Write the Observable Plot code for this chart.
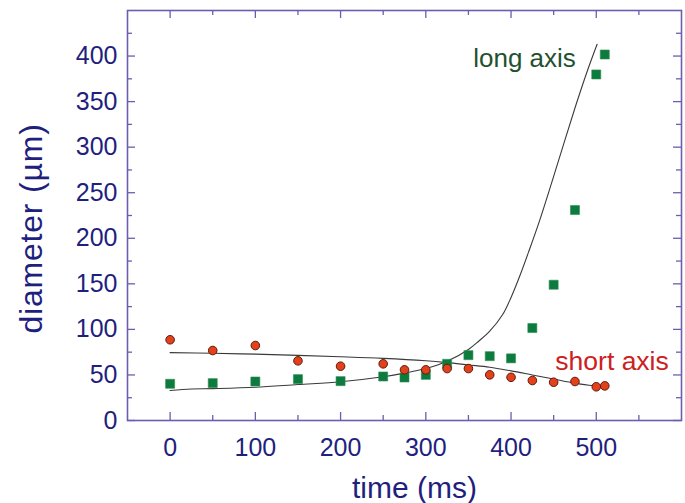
<!DOCTYPE html>
<html>
<head>
<meta charset="utf-8">
<script src="https://cdn.jsdelivr.net/npm/d3@7"></script>
<script src="https://cdn.jsdelivr.net/npm/@observablehq/plot@0.6"></script>
<style>
  html, body { margin: 0; padding: 0; background: #ffffff; }
  #chart { width: 685px; height: 503px; }
  .ytitle text { letter-spacing: 0.8px; }
</style>
</head>
<body>
<div id="chart"></div>
<script>
// ---- data ----
const times      = [0, 50, 100, 150, 200, 250, 275, 300, 325, 350, 375, 400, 425, 450, 475, 500, 510];
const shortAxis  = [88.6, 76.8, 82.3, 65.5, 59.6, 62.2, 55.6, 55.6, 57, 57, 50.1, 47.4, 43.9, 42, 42.8, 37, 38];
const longAxis   = [40.3, 41, 42.8, 45.4, 43.2, 48.3, 47.2, 50.1, 62.2, 71.7, 70.6, 68.2, 101.5, 149, 231, 379.8, 401.7];

const longFitT   = [0, 25, 50, 100, 150, 200, 250, 275, 300, 325, 350, 362, 375, 390, 400, 410, 421, 433, 450, 475, 490, 501];
const longFitD   = [33, 34.5, 35, 36.5, 39.5, 42.5, 48, 52, 57, 65, 78, 87, 98, 116, 135, 158, 186, 218, 268, 343, 385, 413];
const shortFitT  = [0, 50, 100, 150, 200, 250, 300, 325, 350, 375, 400, 425, 450, 475, 500, 510];
const shortFitD  = [74.5, 73.8, 72.8, 71.5, 70, 68.2, 65.5, 63.5, 61, 58.5, 54.5, 50, 45.5, 41, 37.5, 36];

const xTickLabels = [0, 100, 200, 300, 400, 500];
const xMinorTicks = [50, 150, 250, 350, 450, 550];
const yTickLabels = [0, 50, 100, 150, 200, 250, 300, 350, 400];
const yMinorTicks = [25, 75, 125, 175, 225, 275, 325, 375, 425];

const seriesNames = ["long axis", "short axis"];
const xTitle = "time (ms)";
const yTitle = "diameter (µm)";

// ---- build tables ----
const longPts  = times.map((t, i) => ({t, d: longAxis[i]}));
const shortPts = times.map((t, i) => ({t, d: shortAxis[i]}));
const longFit  = longFitT.map((t, i) => ({t, d: longFitD[i]}));
const shortFit = shortFitT.map((t, i) => ({t, d: shortFitD[i]}));

const FRAME = "#6a5eae";
const NAVY = "#1f1f7e";
const W = 685, H = 503, ML = 127, MR = 4, MT = 10, MB = 83;
const IW = W - ML - MR, IH = H - MT - MB;

const chart = Plot.plot({
  width: W, height: H,
  marginLeft: ML, marginRight: MR, marginTop: MT, marginBottom: MB,
  x: {domain: [-50, 600]},
  y: {domain: [0, 450]},
  style: {fontFamily: "'Liberation Sans', Arial, Helvetica, sans-serif", background: "#ffffff"},
  marks: [
    // tick marks (inward, mirrored)
    Plot.tickX(xTickLabels, {x: d => d, stroke: FRAME, strokeWidth: 1.3, insetTop: IH - 8}),
    Plot.tickX(xTickLabels, {x: d => d, stroke: FRAME, strokeWidth: 1.3, insetBottom: IH - 8}),
    Plot.tickX(xMinorTicks, {x: d => d, stroke: FRAME, strokeWidth: 1.3, insetTop: IH - 5}),
    Plot.tickX(xMinorTicks, {x: d => d, stroke: FRAME, strokeWidth: 1.3, insetBottom: IH - 5}),
    Plot.tickY(yTickLabels, {y: d => d, stroke: FRAME, strokeWidth: 1.3, insetRight: IW - 8}),
    Plot.tickY(yTickLabels, {y: d => d, stroke: FRAME, strokeWidth: 1.3, insetLeft: IW - 8}),
    Plot.tickY(yMinorTicks, {y: d => d, stroke: FRAME, strokeWidth: 1.3, insetRight: IW - 5}),
    Plot.tickY(yMinorTicks, {y: d => d, stroke: FRAME, strokeWidth: 1.3, insetLeft: IW - 5}),
    Plot.frame({stroke: FRAME, strokeWidth: 1.6}),
    // axis labels
    Plot.axisX({ticks: xTickLabels, tickSize: 0, tickPadding: 18, fontSize: 25, color: NAVY, label: null}),
    Plot.axisY({ticks: yTickLabels, tickSize: 0, tickPadding: 10, fontSize: 25, color: NAVY, label: null}),
    Plot.text([xTitle], {frameAnchor: "bottom", text: d => d, dx: 10, dy: 68, fontSize: 30, fill: NAVY, textAnchor: "middle", lineAnchor: "middle"}),
    Plot.text([yTitle], {frameAnchor: "left", text: d => d, dx: -96, dy: 13, rotate: -90, fontSize: 32, fill: NAVY, textAnchor: "middle", lineAnchor: "middle", className: "ytitle"}),
    // fit curves
    Plot.line(shortFit, {x: "t", y: "d", curve: "catmull-rom", stroke: "#3a3a3a", strokeWidth: 1.1}),
    Plot.line(longFit, {x: "t", y: "d", curve: "catmull-rom", stroke: "#3a3a3a", strokeWidth: 1.1}),
    // data points
    Plot.dot(longPts, {x: "t", y: "d", symbol: "square", r: 5.1, fill: "#0d7a3e", stroke: "#2f8f55", strokeWidth: 0.6}),
    Plot.dot(shortPts, {x: "t", y: "d", r: 4.3, fill: "#e2411b", stroke: "#5e1a0c", strokeWidth: 1}),
    // series annotations
    Plot.text([seriesNames[0]], {x: 476, y: 397, text: d => d, textAnchor: "end", lineAnchor: "middle", fontSize: 26, fill: "#1f5130"}),
    Plot.text([seriesNames[1]], {x: 452, y: 65, text: d => d, textAnchor: "start", lineAnchor: "middle", fontSize: 26.5, fill: "#cc2020"})
  ]
});
document.getElementById("chart").appendChild(chart);
</script>
</body>
</html>
